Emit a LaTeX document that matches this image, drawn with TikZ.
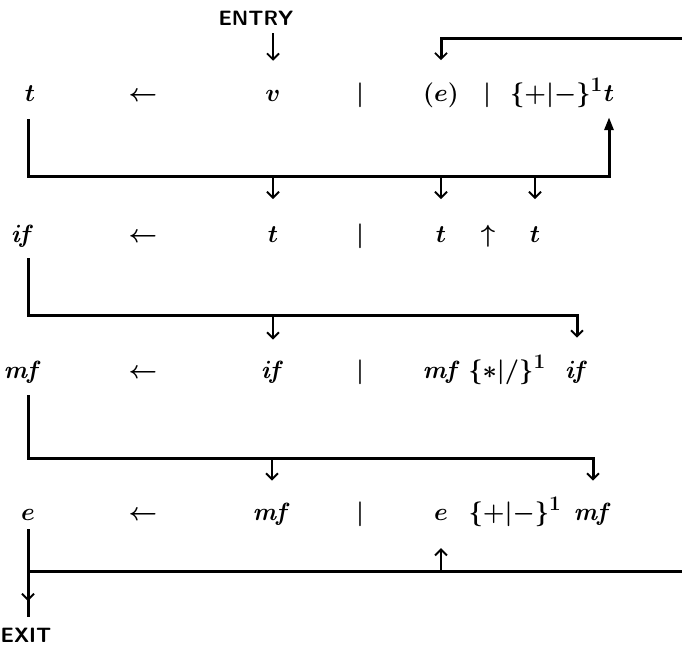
\documentclass[tikz,border=0pt]{standalone}
\usetikzlibrary{arrows.meta, calc}

\begin{document}
\begin{tikzpicture}[
    x=1pt, y=-1pt,
    >={Straight Barb[length=6pt,width=12pt,line width=1.8pt]},
    tok/.style={anchor=base, inner sep=1pt, font=\Huge\boldmath},
    term/.style={inner sep=1pt, font=\sffamily\bfseries\huge},
    trunk/.style={line width=3pt},
    arrow/.style={->, line width=1.8pt},
    back/.style={trunk, -{Triangle[length=13pt,width=9pt]}}
  ]
    \useasboundingbox (0,0) rectangle (682,649);
    \node[term] (entry) at (256,18) {ENTRY};
    \node[tok] (t1) at (30,101) {$t$};
    \node[tok] (a1) at (143,101) {$\leftarrow$};
    \node[tok] (v1) at (273,101) {$v$};
    \node[tok] (b1) at (360,101) {$|$};
    \node[tok] (e1) at (441,101) {$(e)$};
    \node[tok] (c1) at (487,101) {$|$};
    \node[tok, anchor=base east] (op1) at (604,101) {$\{+|-\}^1$};
    \node[tok] (r1t) at (609,101) {$t$};
    \node[tok] (if2) at (23,242) {$\mathit{if}$};
    \node[tok] (a2) at (143,242) {$\leftarrow$};
    \node[tok] (t2a) at (273,242) {$t$};
    \node[tok] (b2) at (360,242) {$|$};
    \node[tok] (t2b) at (441,242) {$t$};
    \node[tok] (up2) at (488,242) {$\uparrow$};
    \node[tok] (t2c) at (535,242) {$t$};
    \node[tok] (mf3) at (23,378) {$\mathit{mf}$};
    \node[tok] (a3) at (143,378) {$\leftarrow$};
    \node[tok] (if3a) at (273,378) {$\mathit{if}$};
    \node[tok] (b3) at (360,378) {$|$};
    \node[tok] (mf3b) at (442,378) {$\mathit{mf}$};
    \node[tok] (op3) at (507,378) {$\{*|/\}^1$};
    \node[tok] (if3b) at (577,378) {$\mathit{if}$};
    \node[tok] (e4) at (28,520) {$e$};
    \node[tok] (a4) at (143,520) {$\leftarrow$};
    \node[tok] (mf4a) at (272,520) {$\mathit{mf}$};
    \node[tok] (b4) at (360,520) {$|$};
    \node[tok] (e4b) at (441,520) {$e$};
    \node[tok] (op4) at (515,520) {$\{+|-\}^1$};
    \node[tok] (mf4b) at (593,520) {$\mathit{mf}$};
    \node[term] (exit) at (26,635) {EXIT};
    \coordinate (k1) at (28,176);
    \coordinate (k2) at (28,315);
    \coordinate (k3) at (28,458);
    \coordinate (k4) at (28,571);
    \coordinate (rt) at (682,38);
    \coordinate (rb) at (682,571);
    \coordinate (xt) at (28,601);
    \draw[arrow, shorten <=7pt, shorten >=28pt] (v1 |- entry.south) -- (v1.north);
    \draw[trunk, ->, shorten >=21pt] (rt) -| (e1.north);
    \draw[back, shorten <=17pt, shorten >=15pt] (k1 |- t1.south) -- (k1) -| (r1t.south);
    \draw[arrow, shorten >=26pt] (k1 -| t2a) -- (t2a.north);
    \draw[arrow, shorten >=26pt] (k1 -| t2b) -- (t2b.north);
    \draw[arrow, shorten >=26pt] (k1 -| t2c) -- (t2c.north);
    \draw[trunk, ->, shorten <=10pt, shorten >=22pt] (k2 |- if2.south) -- (k2) -| (if3b.north);
    \draw[arrow, shorten >=20pt] (k2 -| if3a) -- (if3a.north);
    \draw[trunk, ->, shorten <=11pt, shorten >=21pt] (k3 |- mf3.south) -- (k3) -| (mf4b.north);
    \draw[arrow, shorten >=21pt] (k3 -| mf4a) -- (mf4a.north);
    \draw[trunk] (k4) -- (rb);
    \draw[arrow, shorten >=27pt] (k4 -| e4b) -- (e4b.south);
    \draw[trunk, shorten <=8pt, shorten >=10pt] (k4 |- e4.south) -- (k4 |- exit.north);
    \draw[arrow] (k4) -- (xt);
  \end{tikzpicture}
\end{document}
